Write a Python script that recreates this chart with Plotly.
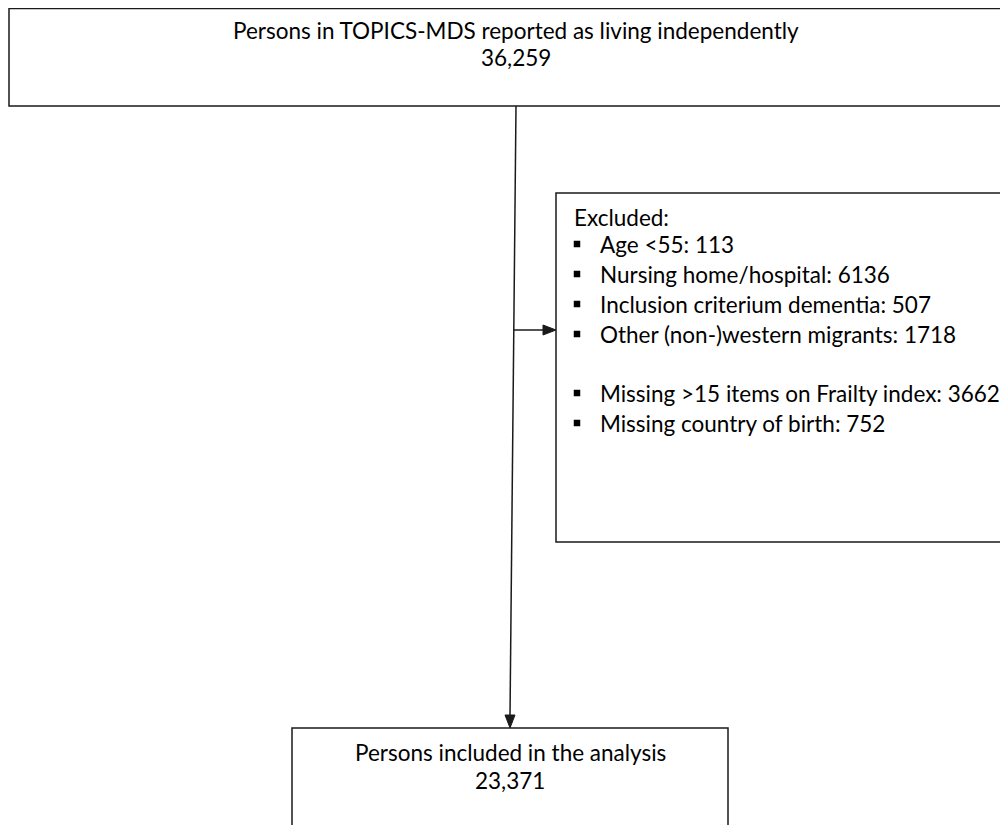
import plotly.graph_objects as go

# ---- data ----
top_label = "Persons in TOPICS-MDS reported as living independently"
top_count = "36,259"
excluded_title = "Excluded:"
excluded_reasons = [
    "Age <55",
    "Nursing home/hospital",
    "Inclusion criterium dementia",
    "Other (non-)western migrants",
    None,
    "Missing >15 items on Frailty index",
    "Missing country of birth",
]
excluded_counts = [113, 6136, 507, 1718, None, 3662, 752]
bottom_label = "Persons included in the analysis"
bottom_count = "23,371"

FONT = "Lato"
FS = 22.5
LC = "#1a1a1a"

fig = go.Figure()
shapes = []
annotations = []

def txt(x, y, s, anchor="center"):
    annotations.append(dict(x=x, y=y, text=s, showarrow=False, xanchor=anchor, yanchor="middle",
                            font=dict(family=FONT, size=FS, color="black")))

# top box
shapes.append(dict(type="rect", x0=9, y0=8.5, x1=1030, y1=106, line=dict(color=LC, width=1.5)))
txt(516, 30, top_label)
txt(516, 57, top_count)

# excluded box
shapes.append(dict(type="rect", x0=556, y0=193, x1=1030, y1=542, line=dict(color=LC, width=1.5)))
txt(572, 217, excluded_title, "left")
ys = [244, 274, 304, 334, None, 393, 423]
bx, by = [], []
for r, c, y in zip(excluded_reasons, excluded_counts, ys):
    if r is None:
        continue
    txt(598, y, f"{r}: {c}", "left")
    bx.append(577)
    by.append(y)
fig.add_trace(go.Scatter(x=bx, y=by, mode="markers", marker=dict(symbol="square", size=6.5, color="black"),
                         hoverinfo="skip", showlegend=False))

# bottom box
shapes.append(dict(type="rect", x0=292, y0=728, x1=728, y1=900, line=dict(color=LC, width=1.5)))
txt(510, 752, bottom_label)
txt(510, 780, bottom_count)

# vertical connector (slightly slanted)
shapes.append(dict(type="line", x0=516, y0=106, x1=510, y1=716, line=dict(color=LC, width=1.5)))
shapes.append(dict(type="path", path="M 505 715 L 515 715 L 510 728 Z", fillcolor=LC, line=dict(color=LC, width=1)))

# horizontal connector
shapes.append(dict(type="line", x0=513, y0=330, x1=545, y1=330, line=dict(color=LC, width=1.5)))
shapes.append(dict(type="path", path="M 543 325 L 543 335 L 556 330 Z", fillcolor=LC, line=dict(color=LC, width=1)))

# page body has an 8px margin: shift ranges so data coords equal window pixels
fig.update_layout(
    width=1000, height=817,
    margin=dict(l=0, r=0, t=0, b=0),
    paper_bgcolor="white", plot_bgcolor="white",
    xaxis=dict(range=[8, 1008], visible=False, fixedrange=True),
    yaxis=dict(range=[825, 8], visible=False, fixedrange=True),
    shapes=shapes, annotations=annotations,
)
fig.write_html("out.html", config={"displayModeBar": False})
